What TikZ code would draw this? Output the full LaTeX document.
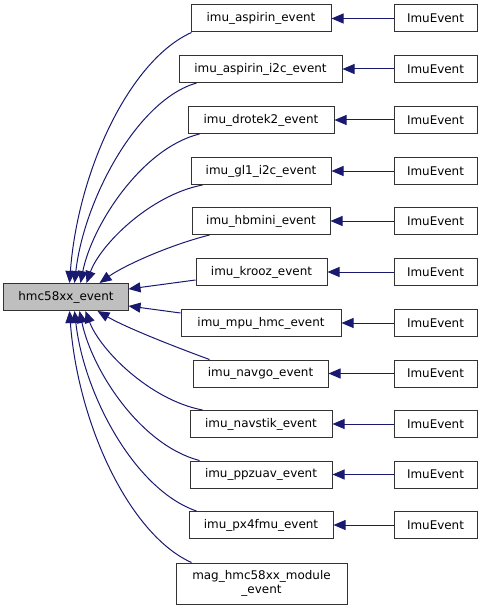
\documentclass[tikz,border=0pt]{standalone}
\usepackage{fontspec}
\setmainfont{DejaVu Sans}
\usetikzlibrary{arrows.meta,calc}
\definecolor{edgeblue}{HTML}{191970}
\begin{document}
\begin{tikzpicture}[x=1bp,y=-1bp,
  box/.style={draw=black!80,line width=1bp,fill=white,inner sep=0pt,minimum height=27bp,font=\fontsize{12}{14}\selectfont,align=center},
  mainbox/.style={box,fill=black!25},
  edge/.style={draw=edgeblue,line width=1bp,{Triangle[length=12bp,width=10bp]}-}]
\useasboundingbox (0,0) rectangle (483,611);
\node[mainbox,minimum width=124bp] (main) at (66,297) {hmc58xx\_event};
\node[box,minimum width=140bp] (asp) at (261,18.5) {imu\_aspirin\_event};
\node[box,minimum width=163bp] (aspi) at (260.5,69) {imu\_aspirin\_i2c\_event};
\node[box,minimum width=146bp] (dro) at (261,120) {imu\_drotek2\_event};
\node[box,minimum width=140bp] (gl) at (261,171) {imu\_gl1\_i2c\_event};
\node[box,minimum width=138bp] (hbm) at (261,221) {imu\_hbmini\_event};
\node[box,minimum width=131bp] (kro) at (261.5,272) {imu\_krooz\_event};
\node[box,minimum width=160bp] (mpu) at (261,323) {imu\_mpu\_hmc\_event};
\node[box,minimum width=135bp] (nvg) at (260.5,373.5) {imu\_navgo\_event};
\node[box,minimum width=142bp] (nvs) at (261,424) {imu\_navstik\_event};
\node[box,minimum width=142bp] (ppz) at (261,474.5) {imu\_ppzuav\_event};
\node[box,minimum width=144bp] (px4) at (261,525) {imu\_px4fmu\_event};
\node[box,minimum width=171bp,minimum height=41bp] (mag) at (261.5,583.5) {mag\_hmc58xx\_module\\\_event};
\foreach \n/\y in {e1/18.5,e2/69,e3/120,e4/171,e5/221,e6/272,e7/323,e8/373.5,e9/424,e10/474.5,e11/525}
  \node[box,minimum width=83bp] (\n) at (435.5,\y) {ImuEvent};
\foreach \a/\b in {asp/e1,aspi/e2,dro/e3,gl/e4,hbm/e5,kro/e6,mpu/e7,nvg/e8,nvs/e9,ppz/e10,px4/e11}
  \draw[edge] (\a.east) -- (\b.west);
% curves into main node
\draw[edge] ($(main.north west)+(66,0)$) .. controls (78,170) and (130,60) .. ($(asp.south west)+(1,0)$);
\draw[edge] ($(main.north west)+(71,0)$) .. controls (84,200) and (137,100) .. ($(aspi.south west)+(18,0)$);
\draw[edge] ($(main.north west)+(77,0)$) .. controls (92,225) and (142,148) .. ($(dro.south west)+(12,0)$);
\draw[edge] ($(main.north west)+(83,0)$) .. controls (100,245) and (150,195) .. ($(gl.south west)+(12,0)$);
\draw[edge] ($(main.north west)+(96,0)$) .. controls (125,265) and (170,245) .. ($(hbm.south west)+(18,0)$);
\draw[edge] ($(main.east)+(0,-8)$) -- ($(kro.west)+(0,8)$);
\draw[edge] ($(main.east)+(0,9)$) -- ($(mpu.west)+(0,-10)$);
\draw[edge] ($(main.south west)+(94,0)$) .. controls (125,327) and (170,345) .. ($(nvg.north west)+(17,0)$);
\draw[edge] ($(main.south west)+(82,0)$) .. controls (100,350) and (150,400) .. ($(nvs.north west)+(13,0)$);
\draw[edge] ($(main.south west)+(76,0)$) .. controls (92,370) and (140,445) .. ($(ppz.north west)+(10,0)$);
\draw[edge] ($(main.south west)+(71,0)$) .. controls (84,395) and (135,490) .. ($(px4.north west)+(8,0)$);
\draw[edge] ($(main.south west)+(66,0)$) .. controls (78,425) and (130,535) .. ($(mag.north west)+(16,0)$);
\end{tikzpicture}
\end{document}
